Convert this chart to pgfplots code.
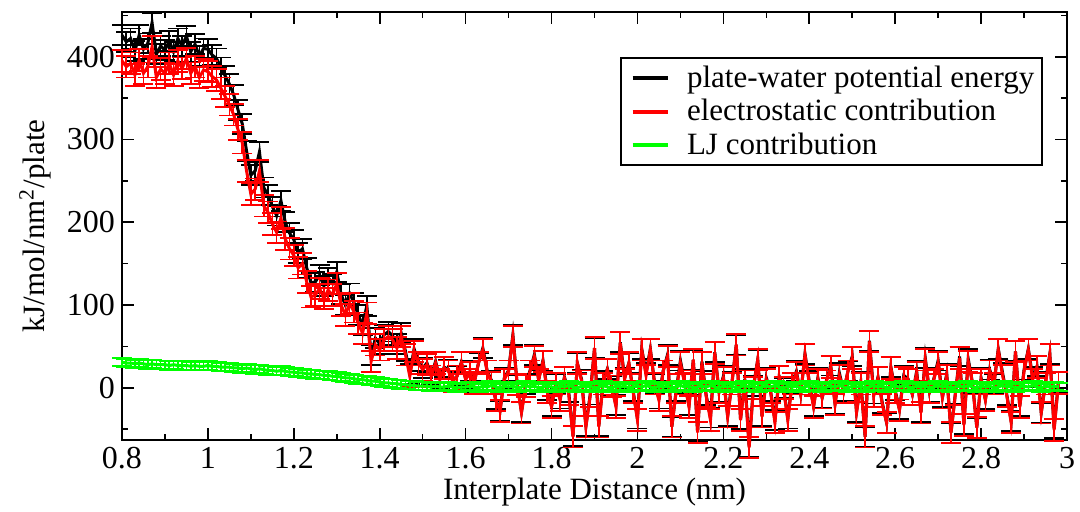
\documentclass[border=0pt]{standalone}
\usepackage{fontspec}
\setmainfont{Liberation Serif}
\usepackage{pgfplots}
\usepackage{pgfplotstable}
\pgfplotsset{compat=1.18}
\pgfplotstableread{
x r g b
0.80 395 31 426
0.81 388 30 418
0.82 392 30 422
0.83 378 29 407
0.84 396 30 426
0.85 380 29 409
0.86 388 28 416
0.87 412 29 441
0.88 375 28 403
0.89 385 28 413
0.90 380 28 408
0.91 392 27 419
0.92 378 28 406
0.93 395 27 422
0.94 386 27 413
0.95 398 27 425
0.96 380 26 406
0.97 388 27 415
0.98 375 26 401
0.99 384 26 410
1.00 382 27 409
1.01 376 26 402
1.02 372 26 398
1.03 362 25 387
1.04 352 25 377
1.05 342 25 367
1.06 330 24 354
1.07 312 24 336
1.08 296 23 319
1.09 262 24 286
1.10 234 23 257
1.11 240 22 262
1.12 262 23 285
1.13 220 22 242
1.14 212 21 233
1.15 198 21 219
1.16 188 20 208
1.17 205 21 226
1.18 180 20 200
1.19 168 19 187
1.20 160 19 179
1.21 145 18 163
1.22 150 18 168
1.23 128 17 145
1.24 110 17 127
1.25 112 16 128
1.26 120 16 136
1.27 108 15 123
1.28 118 15 133
1.29 112 14 126
1.30 126 14 140
1.31 100 13 113
1.32 88 12 100
1.33 102 12 114
1.34 92 11 103
1.35 78 10 88
1.36 66 10 76
1.37 90 9 99
1.38 32 8 40
1.39 52 8 60
1.40 46 7 53
1.41 58 6 64
1.42 62 6 68
1.43 58 5 63
1.44 48 5 53
1.45 62 4 66
1.46 40 4 44
1.47 14 3 17
1.48 44 3 47
1.49 30 2 32
1.50 22 2 24
1.51 28 2 30
1.52 14 1 15
1.53 30 2 32
1.54 10 1 11
1.55 24 1 25
1.56 20 2 22
1.57 8 1 9
1.58 14 0 14
1.59 30 1 31
1.60 10 1 11
1.61 18 2 20
1.62 6 1 7
1.63 30 0 30
1.64 46 2 48
1.65 20 1 21
1.66 6 3 9
1.67 -15 1 -14
1.68 -28 0 -28
1.69 10 2 12
1.70 20 1 21
1.71 62 2 64
1.72 4 0 4
1.73 -30 1 -29
1.74 2 3 5
1.75 20 1 21
1.76 38 2 40
1.77 10 0 10
1.78 32 1 33
1.79 -5 2 -3
1.80 -23 1 -22
1.81 5 0 5
1.82 -15 2 -13
1.83 12 1 13
1.84 -8 3 -5
1.85 -59 1 -58
1.86 30 0 30
1.87 8 2 10
1.88 -47 1 -46
1.89 -10 2 -8
1.90 48 0 48
1.91 -47 1 -46
1.92 5 3 8
1.93 22 1 23
1.94 2 0 2
1.95 -23 2 -21
1.96 54 1 55
1.97 10 2 12
1.98 30 0 30
1.99 -5 1 -4
2.00 -39 2 -37
2.01 46 1 47
2.02 15 3 18
2.03 46 1 47
2.04 5 0 5
2.05 -15 2 -13
2.06 20 1 21
2.07 38 2 40
2.08 -47 0 -47
2.09 -5 1 -4
2.10 30 3 33
2.11 5 1 6
2.12 -23 2 -21
2.13 34 0 34
2.14 -54 1 -53
2.15 30 2 32
2.16 -10 1 -9
2.17 -39 3 -36
2.18 42 1 43
2.19 -5 0 -5
2.20 12 2 14
2.21 -35 1 -34
2.22 5 2 7
2.23 52 0 52
2.24 -39 1 -38
2.25 8 3 11
2.26 -72 1 -71
2.27 0 2 2
2.28 34 0 34
2.29 -35 1 -34
2.30 10 2 12
2.31 -5 1 -4
2.32 -42 3 -39
2.33 13 1 14
2.34 0 0 0
2.35 -39 2 -37
2.36 5 1 6
2.37 18 2 20
2.38 -8 0 -8
2.39 40 1 41
2.40 5 3 8
2.41 -23 1 -22
2.42 10 2 12
2.43 -12 0 -12
2.44 8 1 9
2.45 25 2 27
2.46 -20 1 -19
2.47 15 3 18
2.48 -5 1 -4
2.49 20 0 20
2.50 36 2 38
2.51 -30 1 -29
2.52 5 2 7
2.53 -59 0 -59
2.54 56 1 57
2.55 -10 3 -7
2.56 12 1 13
2.57 -20 2 -18
2.58 -42 0 -42
2.59 24 1 25
2.60 -5 2 -3
2.61 -27 1 -26
2.62 12 3 15
2.63 10 1 11
2.64 -8 0 -8
2.65 18 2 20
2.66 -30 1 -29
2.67 34 2 36
2.68 -5 0 -5
2.69 10 1 11
2.70 30 3 33
2.71 -12 1 -11
2.72 15 2 17
2.73 -54 0 -54
2.74 -8 1 -7
2.75 36 2 38
2.76 -45 1 -44
2.77 32 3 35
2.78 5 1 6
2.79 -48 0 -48
2.80 10 2 12
2.81 -15 1 -14
2.82 20 2 22
2.83 5 0 5
2.84 46 1 47
2.85 15 3 18
2.86 -10 1 -9
2.87 -42 2 -40
2.88 44 0 44
2.89 -23 1 -22
2.90 20 2 22
2.91 46 1 47
2.92 10 3 13
2.93 25 1 26
2.94 -30 0 -30
2.95 5 2 7
2.96 40 1 41
2.97 -51 2 -49
2.98 6 1 7
}\data
\definecolor{xgreen}{RGB}{0,255,0}
\definecolor{xred}{RGB}{255,0,0}
\begin{document}
\begin{tikzpicture}
\useasboundingbox (-61pt,-35.5pt) rectangle (479pt,220pt);
\begin{axis}[
  scale only axis,
  width=472.5pt, height=214pt,
  xmin=0.8, xmax=3, ymin=-63, ymax=454,
  clip=false,
  axis line style={line width=1pt},
  every tick/.style={black, line width=0.8pt},
  major tick length=6pt, minor tick length=3pt,
  xtick={0.8,1,1.2,1.4,1.6,1.8,2,2.2,2.4,2.6,2.8,3},
  xticklabels={0.8,1,1.2,1.4,1.6,1.8,2,2.2,2.4,2.6,2.8,3},
  minor xtick={0.9,1.1,1.3,1.5,1.7,1.9,2.1,2.3,2.5,2.7,2.9},
  ytick={0,100,200,300,400},
  yticklabels={0,100,200,300,400},
  minor ytick={-50,50,150,250,350,450},
  tick label style={font=\fontsize{16}{18}\selectfont},
  every axis x label/.style={at={(axis description cs:0.5,-0.1215)}, anchor=center},
  every axis y label/.style={at={(axis description cs:-0.092,0.5)}, rotate=90, anchor=center},
  label style={font=\fontsize{15.5}{18}\selectfont},
  xlabel={Interplate Distance (nm)},
  ylabel={kJ/mol/nm\textsuperscript{2}/plate},
  legend style={at={(0.9746,0.895)}, anchor=north east, draw=black, line width=0.8pt,
    font=\fontsize{15.5}{17}\selectfont, inner xsep=2pt, inner ysep=2pt,
    row sep=0.5pt},
  legend cell align=left,
  legend image code/.code={\draw[#1, line width=2pt] (0pt,0pt) -- (17.5pt,0pt);
    \path (-3pt,0pt) (24.5pt,0pt);},
]
\addplot[black, line width=1.5pt,
  error bars/.cd, y dir=both, y fixed=12,
  error bar style={line width=0.8pt},
  error mark options={rotate=90, mark size=5pt, line width=0.9pt}]
  table[x=x, y=b] {\data};
\addlegendentry{plate-water potential energy}
\addplot[xred, line width=1.5pt,
  error bars/.cd, y dir=both, y fixed=13,
  error bar style={line width=0.8pt},
  error mark options={rotate=90, mark size=5pt, line width=0.9pt}]
  table[x=x, y=r] {\data};
\addlegendentry{electrostatic contribution}
\addplot[xgreen, line width=1.5pt,
  error bars/.cd, y dir=both, y fixed=5,
  error bar style={line width=0.8pt},
  error mark options={rotate=90, mark size=5pt, line width=0.9pt}]
  table[x=x, y=g] {\data};
\addlegendentry{LJ contribution}
\end{axis}
\end{tikzpicture}
\end{document}
